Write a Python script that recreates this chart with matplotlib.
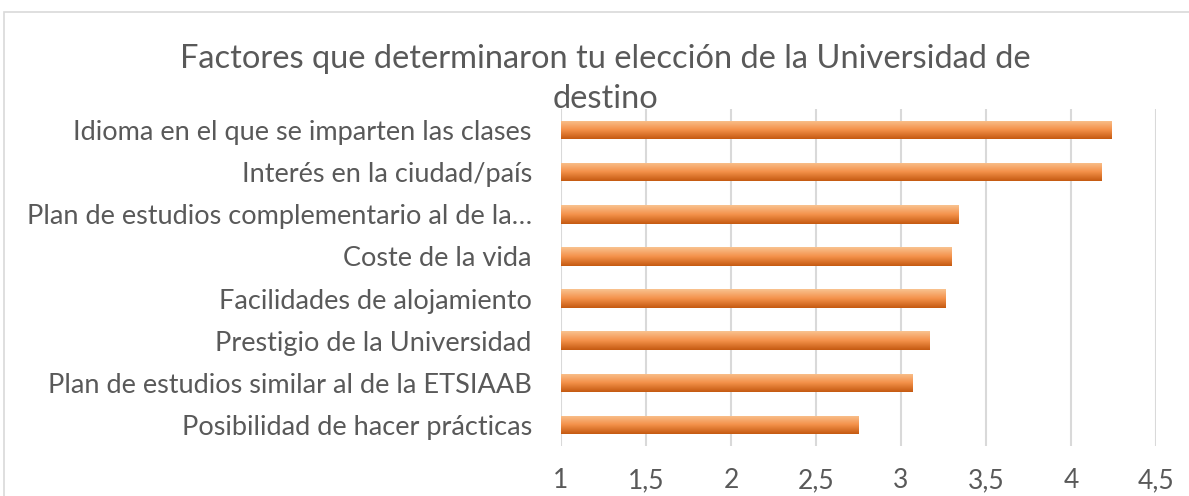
import numpy as np
import matplotlib
matplotlib.use("Agg")
from matplotlib import pyplot as plt
from matplotlib.patches import Rectangle
from matplotlib.colors import LinearSegmentedColormap

categories = [
    "Idioma en el que se imparten las clases",
    "Interés en la ciudad/país",
    "Plan de estudios complementario al de la…",
    "Coste de la vida",
    "Facilidades de alojamiento",
    "Prestigio de la Universidad",
    "Plan de estudios similar al de la ETSIAAB",
    "Posibilidad de hacer prácticas",
]
values = [4.24, 4.18, 3.34, 3.30, 3.26, 3.17, 3.07, 2.75]
xticks = [1, 1.5, 2, 2.5, 3, 3.5, 4, 4.5]
xticklabels = ["1", "1,5", "2", "2,5", "3", "3,5", "4", "4,5"]
title = "Factores que determinaron tu elección de la Universidad de\ndestino"

plt.rcParams['font.family'] = ['Lato', 'DejaVu Sans']
grey = "#595959"

fig = plt.figure(figsize=(11.89, 4.96), dpi=100)
ax = fig.add_axes([561/1189, 1-446/496, 595/1189, 337/496])

ypos = np.arange(len(categories))
bars = ax.barh(ypos, [v - 1 for v in values], left=1, height=0.44,
               color="none", zorder=2)

# vertical gradient (light on top, dark at bottom) for every bar
cmap = LinearSegmentedColormap.from_list("org", ["#c55a11", "#f4914a", "#f9c28f"])
grad = np.linspace(0, 1, 64).reshape(-1, 1)
for b in bars:
    x0, y0 = b.get_x(), b.get_y()
    w, h = b.get_width(), b.get_height()
    im = ax.imshow(grad, cmap=cmap, aspect="auto", origin="lower",
                   extent=[x0, x0 + w, y0 + h, y0], zorder=2)
    im.set_clip_path(b)

ax.set_xlim(1, 4.5)
ax.set_ylim(len(categories) - 0.5, -0.5)
ax.set_yticks(ypos)
ax.set_yticklabels(categories, fontsize=19.5, color=grey)
ax.set_xticks(xticks)
ax.set_xticklabels(xticklabels, fontsize=19, color=grey)
ax.tick_params(axis="both", length=0)
ax.tick_params(axis="y", pad=21)
ax.tick_params(axis="x", pad=16)
ax.grid(axis="x", color="#d9d9d9", linewidth=1.5, zorder=0)
ax.set_axisbelow(True)
for s in ax.spines.values():
    s.set_visible(False)

fig.text(605/1189, 1-79/496, title, ha="center", va="center",
         fontsize=23.5, color=grey, linespacing=1.4)

fig.patches.append(Rectangle((4/1189, -0.1), 1.2, 1-12/496 + 0.1,
                             transform=fig.transFigure, fill=False,
                             edgecolor="#d9d9d9", linewidth=1.2))

fig.savefig("out.png", dpi=100)
